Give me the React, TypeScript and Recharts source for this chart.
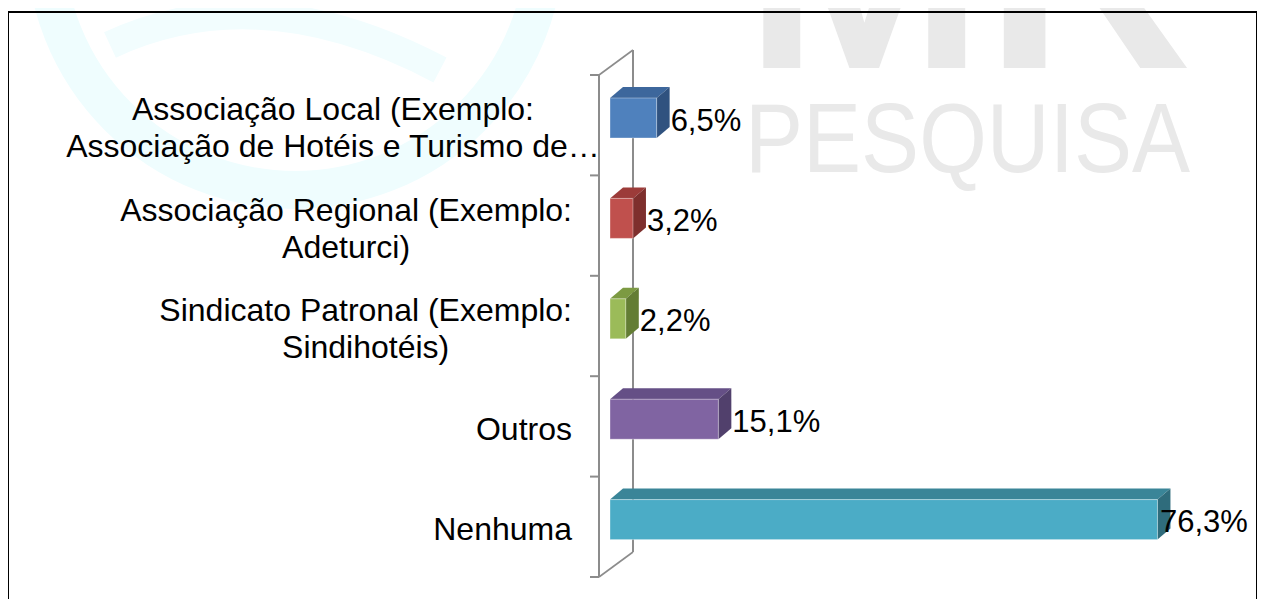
import React from "react";
import { BarChart, Bar, XAxis, YAxis, LabelList } from "recharts";

// categorias (de cima para baixo)
const categorias = [
  "Associação Local (Exemplo: Associação de Hotéis e Turismo de…",
  "Associação Regional (Exemplo: Adeturci)",
  "Sindicato Patronal (Exemplo: Sindihotéis)",
  "Outros",
  "Nenhuma",
];

// rótulos quebrados em linhas como no gráfico original
const linhasRotulo = [
  ["Associação Local (Exemplo:", "Associação de Hotéis e Turismo de…"],
  ["Associação Regional (Exemplo:", "Adeturci)"],
  ["Sindicato Patronal (Exemplo:", "Sindihotéis)"],
  ["Outros"],
  ["Nenhuma"],
];

const percentuais = [6.5, 3.2, 2.2, 15.1, 76.3];

// cores: frente, topo, lado
const coresFrente = ["#4f81bd", "#c0504d", "#9bbb59", "#8064a2", "#4bacc6"];
const coresTopo = ["#3d679c", "#9c3b39", "#7c9a42", "#654f86", "#3a8598"];
const coresLado = ["#30527f", "#7e2f2d", "#637d34", "#51406c", "#2f6c7c"];

const dados = categorias.map((nome, i) => ({ nome, valor: percentuais[i], idx: i }));

const LARGURA = 1265;
const ALTURA = 607;
const PLOT_LEFT = 599;
const PLOT_TOP = 75;
const PLOT_BOTTOM = 577;
const PLOT_RIGHT = 1184;
const FUNDO_DX = 34;
const FUNDO_DY = 25;
const BARRA_DX = 13;
const BARRA_DY = 11;
const FONTE = "'Liberation Sans', Arial, sans-serif";
const COR_EIXO = "#8c8c8c";

const fmt = (v: number) => v.toFixed(1).replace(".", ",") + "%";

let ctx: CanvasRenderingContext2D | null = null;
const medir = (t: string) => {
  if (!ctx) ctx = document.createElement("canvas").getContext("2d");
  if (!ctx) return t.length * 15;
  ctx.font = `32px ${FONTE}`;
  return ctx.measureText(t).width;
};

const Barra3D = (props: any) => {
  const { x, y, width, height, payload } = props;
  const i = payload.idx;
  const fy = y - 7;
  const w = Math.max(width, 0);
  return (
    <g>
      <polygon
        points={`${x},${fy} ${x + BARRA_DX},${fy - BARRA_DY} ${x + w + BARRA_DX},${fy - BARRA_DY} ${x + w},${fy}`}
        fill={coresTopo[i]}
      />
      <polygon
        points={`${x + w},${fy} ${x + w + BARRA_DX},${fy - BARRA_DY} ${x + w + BARRA_DX},${fy + height - BARRA_DY} ${x + w},${fy + height}`}
        fill={coresLado[i]}
      />
      <rect x={x} y={fy} width={w} height={height} fill={coresFrente[i]} stroke="#ffffff" strokeOpacity={0.35} strokeWidth={1} />
    </g>
  );
};

const RotuloValor = (props: any) => {
  const { x, y, width, height, value } = props;
  const lx = Math.min(x + width + 14, PLOT_RIGHT - 24);
  return (
    <text x={lx} y={y - 7 + height / 2 + 2} dominantBaseline="central" fontSize={31} fontFamily={FONTE} fill="#000">
      {fmt(value)}
    </text>
  );
};

const RotuloCategoria = (props: any) => {
  const { y, payload } = props;
  const i = categorias.indexOf(payload.value);
  const linhas = linhasRotulo[i] || [payload.value];
  const direita = PLOT_LEFT - 27;
  const bloco = Math.min(Math.max(...linhas.map(medir)), 478);
  const centro = direita - bloco / 2;
  const passo = 37;
  const y0 = y + 2.5 - ((linhas.length - 1) * passo) / 2;
  return (
    <g>
      {linhas.map((l, k) => (
        <text
          key={k}
          x={linhas.length > 1 ? centro : direita}
          y={y0 + k * passo}
          textAnchor={linhas.length > 1 ? "middle" : "end"}
          dominantBaseline="central"
          fontSize={32}
          fontFamily={FONTE}
          fill="#000"
        >
          {l}
        </text>
      ))}
    </g>
  );
};

// paredes do eixo 3D e marcas entre categorias
const Paredes = () => {
  const passo = (PLOT_BOTTOM - PLOT_TOP) / categorias.length;
  const marcas = Array.from({ length: categorias.length + 1 }, (_, k) => PLOT_TOP + k * passo);
  return (
    <g>
      <line x1={PLOT_LEFT + FUNDO_DX} y1={PLOT_TOP - FUNDO_DY} x2={PLOT_LEFT + FUNDO_DX} y2={PLOT_BOTTOM - FUNDO_DY} stroke={COR_EIXO} strokeWidth={2} />
      <line x1={PLOT_LEFT} y1={PLOT_TOP} x2={PLOT_LEFT + FUNDO_DX} y2={PLOT_TOP - FUNDO_DY} stroke={COR_EIXO} strokeWidth={1.6} />
      <line x1={PLOT_LEFT} y1={PLOT_BOTTOM} x2={PLOT_LEFT + FUNDO_DX} y2={PLOT_BOTTOM - FUNDO_DY} stroke={COR_EIXO} strokeWidth={1.6} />
      {marcas.map((m, k) => (
        <line key={k} x1={PLOT_LEFT - 9} y1={m} x2={PLOT_LEFT} y2={m} stroke={COR_EIXO} strokeWidth={2} />
      ))}
    </g>
  );
};

// marca d'água ao fundo e moldura do gráfico
const MarcaDagua = () => (
  <svg width={LARGURA} height={ALTURA} style={{ position: "absolute", left: 0, top: 0 }}>
    <circle cx={295} cy={-60} r={250} fill="none" stroke="#effdfe" strokeWidth={38} />
    <path d="M 110 45 Q 260 -25 440 70" fill="none" stroke="#f2fdfe" strokeWidth={28} />
    <text x={744} y={68} fontSize={260} fontFamily={FONTE} fontWeight="bold" fill="#e9e9e9" textLength={449} lengthAdjust="spacingAndGlyphs">
      MR
    </text>
    <text x={745} y={172} fontSize={98} fontFamily={FONTE} fill="#e9e9e9" textLength={445} lengthAdjust="spacingAndGlyphs">
      PESQUISA
    </text>
    <rect x={8} y={12} width={1249} height={640} fill="none" stroke="#000" strokeWidth={2} />
  </svg>
);

export default function App() {
  return (
    <div style={{ position: "relative", margin: -8, width: LARGURA, height: ALTURA, overflow: "hidden", background: "#fff" }}>
      <MarcaDagua />
      <div style={{ position: "absolute", left: 0, top: 0 }}>
        <BarChart
          width={LARGURA}
          height={ALTURA}
          data={dados}
          layout="vertical"
          margin={{ top: PLOT_TOP, bottom: ALTURA - PLOT_BOTTOM, left: 0, right: LARGURA - PLOT_RIGHT }}
          barSize={40}
        >
          <Paredes />
          <XAxis type="number" domain={[0, 80]} hide padding={{ left: 11, right: 0 }} />
          <YAxis
            type="category"
            dataKey="nome"
            width={PLOT_LEFT}
            axisLine={{ stroke: COR_EIXO, strokeWidth: 2 }}
            tickLine={false}
            tick={<RotuloCategoria />}
            interval={0}
          />
          <Bar dataKey="valor" shape={<Barra3D />} isAnimationActive={false}>
            <LabelList dataKey="valor" content={<RotuloValor />} />
          </Bar>
        </BarChart>
      </div>
    </div>
  );
}
